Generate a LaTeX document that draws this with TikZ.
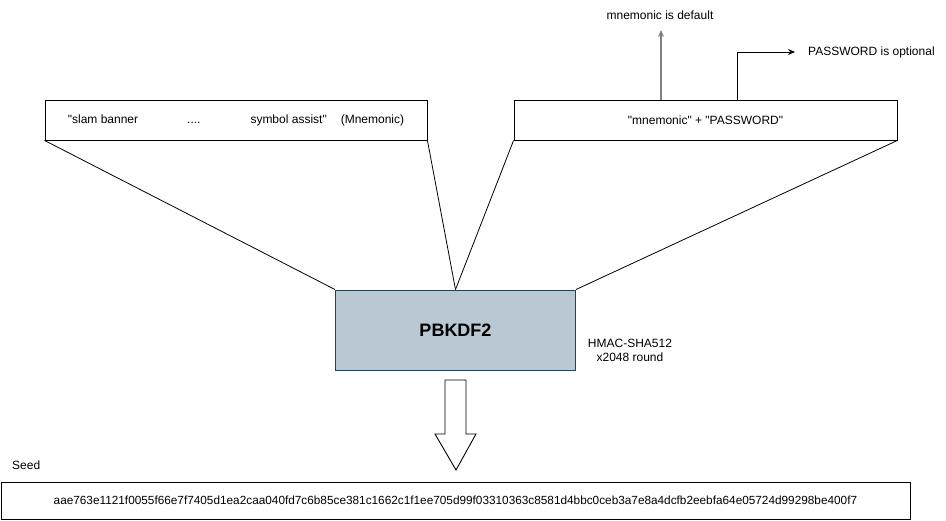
\documentclass[tikz,border=0pt]{standalone}
\usepackage{fontspec}
\setmainfont{Liberation Sans}
\usetikzlibrary{arrows.meta}
\definecolor{kdffill}{HTML}{BAC8D3}
\definecolor{kdfline}{HTML}{23445D}
\newcommand{\dq}{\textquotedbl}

\begin{document}
\begin{tikzpicture}[
    x=1pt, y=-1pt,
    font=\fontsize{12}{14}\selectfont,
    box/.style={rectangle, draw=black, line width=0.9pt, inner sep=0pt},
    kdfbox/.style={rectangle, draw=kdfline, fill=kdffill, line width=0.9pt, minimum width=240pt, minimum height=80pt, inner sep=0pt},
    link/.style={line width=0.8pt},
    arrow/.style={-{Stealth[length=7pt, width=6pt]}, line width=0.9pt},
    label/.style={inner sep=0pt}
]
    \useasboundingbox (0,0) rectangle (946,521);

    % Input boxes
    \node[box, minimum width=382pt, minimum height=40pt] (mnemonic) at (236,120)
        {\dq slam banner\hspace{49pt}....\hspace{50pt}symbol assist\dq\hspace{14pt}(Mnemonic)};
    \node[box, minimum width=383pt, minimum height=40pt] (input) at (705.5,120)
        {\dq mnemonic\dq{} + \dq PASSWORD\dq};

    % Key derivation
    \node[kdfbox] (kdf) at (455.5,330) {\fontsize{18}{20}\selectfont\bfseries PBKDF2};
    \node[label, align=center] (hmac) at (630,350) {HMAC-SHA512\\ x2048 round};

    % Output
    \node[label, anchor=west] (seedlabel) at (12,465) {Seed};
    \node[box, minimum width=909pt, minimum height=37pt] (seed) at (455.5,500.5)
        {\fontsize{11.8}{14}\selectfont aae763e1121f0055f66e7f7405d1ea2caa040fd7c6b85ce381c1662c1f1ee705d99f03310363c8581d4bbc0ceb3a7e8a4dcfb2eebfa64e05724d99298be400f7\hspace{16pt}};

    % Notes above the salt
    \node[label] (default) at (660,15) {mnemonic is default};
    \node[label, anchor=west] (optional) at (808,52) {PASSWORD is optional};
    \coordinate (deftip) at (661,30);
    \coordinate (optfoot) at (737,100);
    \coordinate (opttip) at (795,52);

    % Edges into PBKDF2
    \draw[link] (mnemonic.south west) -- (kdf.north west);
    \draw[link] (mnemonic.south east) -- (kdf.north);
    \draw[link] (input.south west) -- (kdf.north);
    \draw[link] (input.south east) -- (kdf.north east);

    % Edges to notes
    \draw[arrow, draw=gray, line width=1.3pt] (deftip |- input.north) -- (deftip);
    \draw[arrow] (optfoot) |- (opttip);

    % Hollow arrow down to seed
    \draw[line width=0.9pt] (445,380) -- (466,380) -- (466,434) -- (476,434)
        -- (456,470) -- (435,434) -- (445,434) -- cycle;

\end{tikzpicture}
\end{document}
